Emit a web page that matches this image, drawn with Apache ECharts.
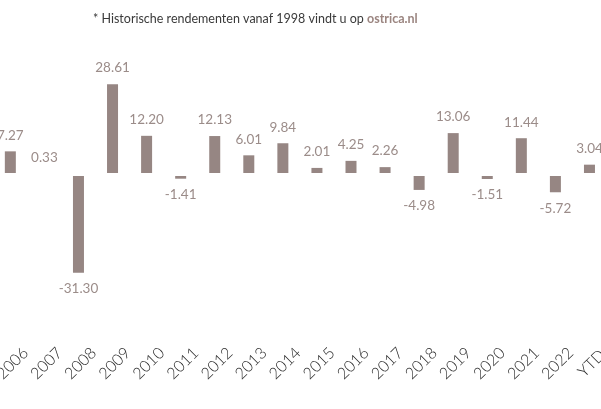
<!DOCTYPE html>
<html>
<head>
<meta charset="utf-8">
<script src="https://cdn.jsdelivr.net/npm/echarts@6/dist/echarts.min.js"></script>
<style>html,body{margin:0;padding:0;background:#fff;overflow:hidden;width:601px;height:409px;}#c{width:641px;height:409px;margin-left:-20px;}</style>
</head>
<body>
<div id="c"></div>
<script>
var categories = ['2006','2007','2008','2009','2010','2011','2012','2013','2014','2015','2016','2017','2018','2019','2020','2021','2022','YTD'];
var returns = [7.27, 0.33, -31.30, 28.61, 12.20, -1.41, 12.13, 6.01, 9.84, 2.01, 4.25, 2.26, -4.98, 13.06, -1.51, 11.44, -5.72, 3.04];
var noteText = '* Historische rendementen vanaf 1998 vindt u op ';
var noteLink = 'ostrica.nl';

var barColor = '#968683';
var labelColor = '#9b8c89';

var chart = echarts.init(document.getElementById('c'), null, {renderer: 'canvas'});
chart.setOption({
  animation: false,
  backgroundColor: '#ffffff',
  title: {
    text: '{a|' + noteText + '}{b|' + noteLink + '}',
    left: 113,
    top: 12,
    padding: 0,
    textStyle: {
      fontWeight: 'normal',
      rich: {
        a: {fontFamily: 'Lato', fontSize: 12.5, color: '#3a3a3a', fontWeight: 'normal'},
        b: {fontFamily: 'Lato', fontSize: 12.5, color: '#9b8580', fontWeight: 'bold'}
      }
    }
  },
  grid: {left: 13.3, right: 14.5, top: 64, height: 220.5},
  xAxis: {
    type: 'category',
    data: categories,
    axisLine: {show: false},
    axisTick: {show: false},
    splitLine: {show: false},
    axisLabel: {
      interval: 0,
      rotate: 45,
      align: 'center',
      verticalAlign: 'middle',
      padding: [0, 0, 0, 6],
      margin: 81,
      fontFamily: 'Lato',
      fontSize: 16,
      fontWeight: 300,
      color: '#2a2a2a'
    }
  },
  yAxis: {
    type: 'value',
    min: -35,
    max: 35,
    show: false,
    splitLine: {show: false}
  },
  series: [{
    type: 'bar',
    barWidth: 11,
    itemStyle: {color: barColor},
    data: returns.map(function (v) {
      return v < 0 ? {value: v, label: {position: 'bottom'}} : {value: v};
    }),
    label: {
      show: true,
      position: 'top',
      distance: 9,
      fontFamily: 'Lato',
      fontSize: 13.5,
      color: labelColor,
      formatter: function (p) { return p.value.toFixed(2); }
    },
    markLine: {
      silent: true,
      symbol: 'none',
      label: {show: false},
      lineStyle: {color: '#ffffff', width: 3, type: 'solid'},
      data: [{yAxis: 0}]
    }
  }]
});
</script>
</body>
</html>
